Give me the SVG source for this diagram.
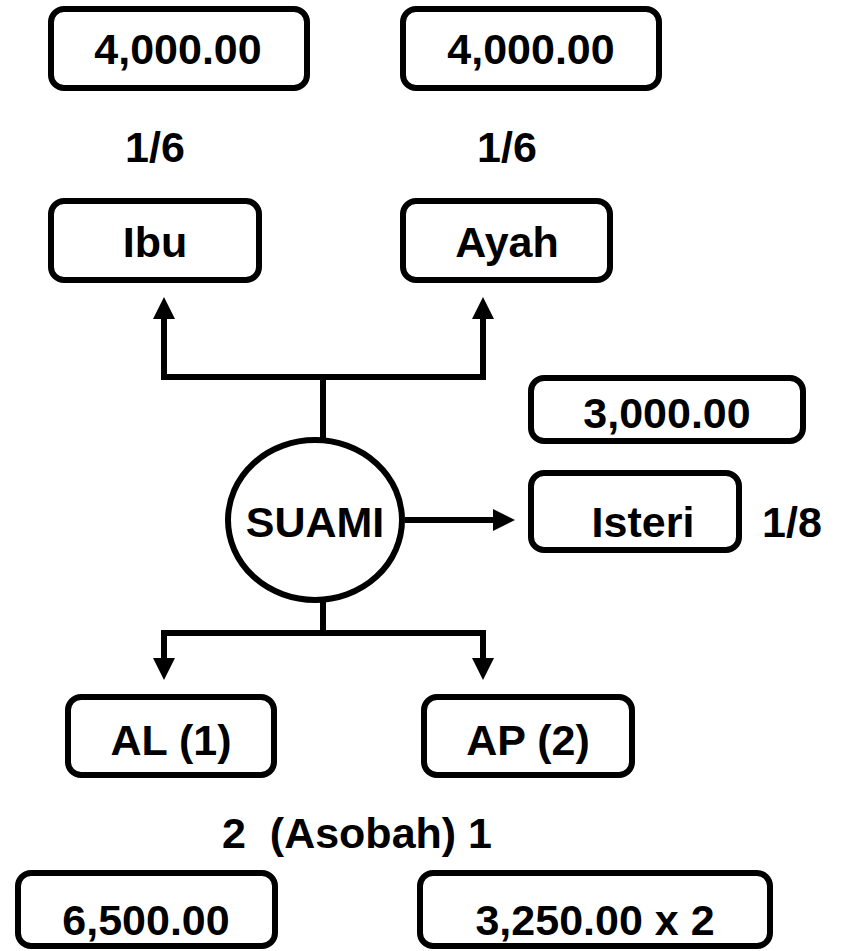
<svg xmlns="http://www.w3.org/2000/svg" width="844" height="951" viewBox="0 0 844 951">
<style>
.box{fill:#fff;stroke:#000;stroke-width:6}
.t{font-family:"Liberation Sans",Arial,sans-serif;font-weight:bold;font-size:43px;fill:#000;text-anchor:middle;white-space:pre}
.ln{fill:none;stroke:#000;stroke-width:6}
</style>
<defs>
<marker id="ah" viewBox="0 0 22 22" refX="0" refY="11" markerWidth="22" markerHeight="22" orient="auto" markerUnits="userSpaceOnUse">
<path d="M0,0 L22,11 L0,22 Z" fill="#000"/>
</marker>
</defs>
<rect width="844" height="951" fill="#fff"/>
<g id="connectors">
<path class="ln" d="M323,440 V377"/>
<path class="ln" d="M163,377 H486"/>
<path class="ln" d="M164,380 V319" marker-end="url(#ah)"/>
<path class="ln" d="M483,380 V319" marker-end="url(#ah)"/>
<path class="ln" d="M405,520 H493" marker-end="url(#ah)"/>
<path class="ln" d="M323,601 V633"/>
<path class="ln" d="M163,633 H486"/>
<path class="ln" d="M164,630 V658" marker-end="url(#ah)"/>
<path class="ln" d="M483,630 V658" marker-end="url(#ah)"/>
</g>
<g id="ibu-value"><rect class="box" x="51" y="9" width="256" height="79" rx="13"/><text class="t" x="178" y="64">4,000.00</text></g>
<g id="ayah-value"><rect class="box" x="403" y="9" width="256" height="79" rx="13"/><text class="t" x="531" y="64">4,000.00</text></g>
<g id="ibu-share"><text class="t" x="155" y="162">1/6</text></g>
<g id="ayah-share"><text class="t" x="507" y="162">1/6</text></g>
<g id="ibu"><rect class="box" x="51" y="201" width="208" height="79" rx="13"/><text class="t" x="155" y="257">Ibu</text></g>
<g id="ayah"><rect class="box" x="403" y="201" width="207" height="79" rx="13"/><text class="t" x="507" y="257">Ayah</text></g>
<g id="isteri-value"><rect class="box" x="531" y="378" width="272" height="63" rx="13"/><text class="t" x="667" y="428">3,000.00</text></g>
<g id="suami"><ellipse class="box" cx="315" cy="520" rx="87" ry="80"/><text class="t" x="315" y="537">SUAMI</text></g>
<g id="isteri"><rect class="box" x="531" y="473" width="208" height="77" rx="13"/><text class="t" x="643" y="537">Isteri</text></g>
<g id="isteri-share"><text class="t" x="792" y="537">1/8</text></g>
<g id="al"><rect class="box" x="68" y="697" width="206" height="78" rx="13"/><text class="t" x="171" y="755">AL (1)</text></g>
<g id="ap"><rect class="box" x="424" y="697" width="208" height="78" rx="13"/><text class="t" x="528" y="755">AP (2)</text></g>
<g id="asobah"><text class="t" x="357" y="848">2  (Asobah) 1</text></g>
<g id="al-value"><rect class="box" x="18" y="873" width="257" height="73" rx="13"/><text class="t" x="146" y="935">6,500.00</text></g>
<g id="ap-value"><rect class="box" x="420" y="873" width="350" height="73" rx="13"/><text class="t" x="595" y="935">3,250.00 x 2</text></g>
</svg>
